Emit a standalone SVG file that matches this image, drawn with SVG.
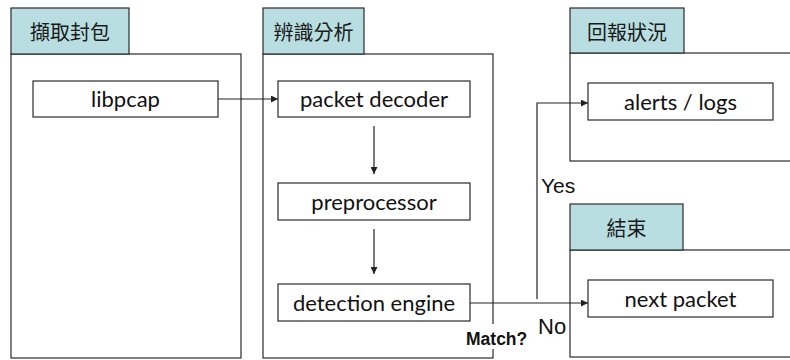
<svg xmlns="http://www.w3.org/2000/svg" width="790" height="360" viewBox="0 0 790 360">
  <style>
    .frame { fill: #ffffff; stroke: #2a2a2a; stroke-width: 1.2; }
    .tab { fill: #b8dee1; stroke: #2a2a2a; stroke-width: 1.2; }
    .box { fill: #ffffff; stroke: #2a2a2a; stroke-width: 1.2; }
    .tabtxt { font-family: "Noto Sans CJK TC", "Noto Sans CJK SC", sans-serif; font-size: 20px; fill: #1a1a1a; text-anchor: middle; dominant-baseline: central; }
    .boxtxt { font-family: Lato, "Liberation Sans", sans-serif; font-size: 22px; fill: #111111; text-anchor: middle; dominant-baseline: central; }
    .lbl { font-family: "Liberation Sans", Arial, sans-serif; fill: #111111; }
    .conn { fill: none; stroke: #222222; stroke-width: 1.2; }
  </style>
  <defs>
    <marker id="arrow" viewBox="0 0 10 10" refX="10" refY="5" markerWidth="8" markerHeight="7" markerUnits="userSpaceOnUse" orient="auto">
      <path d="M0,0 L10,5 L0,10 Z" fill="#222222"/>
    </marker>
  </defs>

  <rect width="790" height="360" fill="#ffffff"/>

  <!-- capture stage -->
  <g id="capture">
    <rect class="frame" x="11" y="54" width="230" height="304"/>
    <rect class="tab" x="11" y="8" width="118" height="46"/>
    <text class="tabtxt" x="70" y="31">擷取封包</text>
  </g>

  <!-- analysis stage -->
  <g id="analysis">
    <rect class="frame" x="263" y="54" width="230" height="304"/>
    <rect class="tab" x="263" y="8" width="101" height="46"/>
    <text class="tabtxt" x="313.5" y="31">辨識分析</text>
  </g>

  <!-- reporting stage -->
  <g id="report">
    <rect class="frame" x="570" y="53" width="240" height="108"/>
    <rect class="tab" x="570" y="8" width="114" height="45"/>
    <text class="tabtxt" x="627" y="31">回報狀況</text>
  </g>

  <!-- end stage -->
  <g id="finish">
    <rect class="frame" x="570" y="250" width="240" height="107"/>
    <rect class="tab" x="570" y="204" width="113" height="46"/>
    <text class="tabtxt" x="626.5" y="227">結束</text>
  </g>

  <g id="libpcap">
    <rect class="box" x="33" y="81" width="185" height="36"/>
    <text class="boxtxt" x="125.5" y="98.5">libpcap</text>
  </g>

  <g id="packet-decoder">
    <rect class="box" x="278" y="81" width="192" height="36"/>
    <text class="boxtxt" x="374" y="98.5">packet decoder</text>
  </g>

  <g id="preprocessor">
    <rect class="box" x="278" y="183" width="192" height="37"/>
    <text class="boxtxt" x="374" y="201">preprocessor</text>
  </g>

  <g id="detection-engine">
    <rect class="box" x="278" y="284" width="192" height="37"/>
    <text class="boxtxt" x="374" y="302">detection engine</text>
  </g>

  <g id="alerts-logs">
    <rect class="box" x="588" y="83" width="185" height="37"/>
    <text class="boxtxt" x="680.5" y="101">alerts / logs</text>
  </g>

  <g id="next-packet">
    <rect class="box" x="588" y="280" width="185" height="37"/>
    <text class="boxtxt" x="680.5" y="298">next packet</text>
  </g>

  <!-- flow -->
  <g id="connectors">
    <line class="conn" x1="218" y1="99" x2="278" y2="99" marker-end="url(#arrow)"/>
    <line class="conn" x1="374" y1="126" x2="374" y2="174" marker-end="url(#arrow)"/>
    <line class="conn" x1="374" y1="229" x2="374" y2="274" marker-end="url(#arrow)"/>
    <line class="conn" x1="470" y1="303" x2="588" y2="303" marker-end="url(#arrow)"/>
    <polyline class="conn" points="537,299 537,103 588,103" marker-end="url(#arrow)"/>
  </g>

  <!-- decision labels -->
  <g id="labels">
    <rect x="464" y="324" width="66" height="25" fill="#ffffff"/>
    <text class="lbl" x="466" y="345" font-size="17.5" font-weight="bold">Match?</text>
    <text class="lbl" x="541" y="193" font-size="21">Yes</text>
    <text class="lbl" x="538" y="334" font-size="22">No</text>
  </g>
</svg>
